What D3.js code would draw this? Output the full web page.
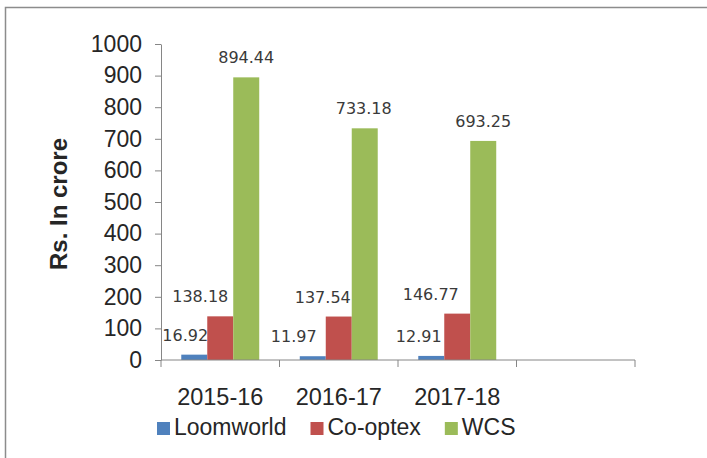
<!DOCTYPE html>
<html>
<head>
<meta charset="utf-8">
<script src="https://cdn.jsdelivr.net/npm/d3@7"></script>
<style>
  html, body { margin: 0; padding: 0; background: #fff; }
  svg { display: block; }
</style>
</head>
<body>
<div id="chart"></div>
<script>
// chart data
const years = ["2015-16", "2016-17", "2017-18", ""];
const seriesNames = ["Loomworld", "Co-optex", "WCS"];
const loomworld = [16.92, 11.97, 12.91];
const coOptex = [138.18, 137.54, 146.77];
const wcs = [894.44, 733.18, 693.25];
const yTicks = [0, 100, 200, 300, 400, 500, 600, 700, 800, 900, 1000];

const seriesValues = [loomworld, coOptex, wcs];
const colors = ["#4F81BD", "#C0504D", "#9BBB59"];
// small manual nudges of the value labels, as placed in the source chart
const labelNudge = [[-9, -19, -12.5], [-20, -16, -26.5], [0, -1, 0]];

const width = 707, height = 458;
const margin = { left: 161, right: 72, top: 44, bottom: 98 };

const svg = d3.select("#chart").append("svg")
    .attr("width", width)
    .attr("height", height);

// outer frame
svg.append("rect")
    .attr("x", 5.5).attr("y", 7.5)
    .attr("width", width + 10).attr("height", height + 10)
    .attr("fill", "none")
    .attr("stroke", "#8c8c8c")
    .attr("stroke-width", 1.5);

const x0 = d3.scaleBand()
    .domain(years)
    .range([margin.left, width - margin.right])
    .paddingInner(0).paddingOuter(0);

const x1 = d3.scaleBand()
    .domain(seriesNames)
    .range([0, x0.bandwidth()])
    .paddingInner(0)
    .paddingOuter(0.78);

const y = d3.scaleLinear()
    .domain([0, 1000])
    .range([height - margin.bottom, margin.top]);

const axisColor = "#868686";
const textColor = "#262626";

// y axis
const yAxis = svg.append("g")
    .attr("transform", `translate(${margin.left},0)`)
    .call(d3.axisLeft(y).tickValues(yTicks).tickFormat(d3.format("d"))
        .tickSize(6).tickPadding(13).tickSizeOuter(0));
yAxis.select(".domain").attr("stroke", axisColor);
yAxis.selectAll(".tick line").attr("stroke", axisColor);
yAxis.selectAll(".tick text")
    .attr("fill", textColor)
    .style("font-family", "'Liberation Sans', Arial, sans-serif")
    .style("font-size", "23px");

// bars
const groups = svg.append("g").selectAll("g")
    .data(years.slice(0, 3))
    .join("g")
    .attr("transform", d => `translate(${x0(d)},0)`);

groups.selectAll("rect")
    .data((d, i) => seriesNames.map((s, k) => ({ s, k, i, v: seriesValues[k][i] })))
    .join("rect")
    .attr("x", d => x1(d.s))
    .attr("y", d => y(d.v))
    .attr("width", x1.bandwidth())
    .attr("height", d => y(0) - y(d.v))
    .attr("fill", d => colors[d.k]);

groups.selectAll("text")
    .data((d, i) => seriesNames.map((s, k) => ({ s, k, i, v: seriesValues[k][i] })))
    .join("text")
    .attr("x", d => x1(d.s) + x1.bandwidth() / 2 + labelNudge[d.k][d.i])
    .attr("y", d => y(d.v) - 14)
    .attr("text-anchor", "middle")
    .attr("fill", "#3a3a3a")
    .style("font-family", "'DejaVu Sans', Verdana, sans-serif")
    .style("font-size", "16px")
    .text(d => d.v.toFixed(2));

// x axis (ticks at category boundaries)
const xAxis = svg.append("g").attr("transform", `translate(0,${y(0)})`);
xAxis.append("line")
    .attr("x1", margin.left).attr("x2", width - margin.right)
    .attr("stroke", axisColor);
const bounds = years.map(d => x0(d)).concat([x0.range()[1]]);
xAxis.selectAll(".xt")
    .data(bounds)
    .join("line")
    .attr("class", "xt")
    .attr("x1", d => d).attr("x2", d => d)
    .attr("y1", 0).attr("y2", 7)
    .attr("stroke", axisColor);
xAxis.selectAll(".xl")
    .data(years)
    .join("text")
    .attr("class", "xl")
    .attr("x", d => x0(d) + x0.bandwidth() / 2)
    .attr("y", 45)
    .attr("text-anchor", "middle")
    .attr("fill", textColor)
    .style("font-family", "'Liberation Sans', Arial, sans-serif")
    .style("font-size", "23.5px")
    .text(d => d);

// y axis title
svg.append("text")
    .attr("transform", `translate(67,${(y(0) + y(1000)) / 2 + 2}) rotate(-90)`)
    .attr("text-anchor", "middle")
    .attr("fill", textColor)
    .style("font-family", "'Liberation Sans', Arial, sans-serif")
    .style("font-size", "24px")
    .style("font-weight", "bold")
    .text("Rs. In crore");

// legend
const legend = svg.append("g").attr("transform", "translate(157,435)");
let lx = 0;
seriesNames.forEach((name, k) => {
    const item = legend.append("g").attr("transform", `translate(${lx},0)`);
    item.append("rect")
        .attr("x", 0).attr("y", -13)
        .attr("width", 13).attr("height", 13)
        .attr("fill", colors[k]);
    const t = item.append("text")
        .attr("x", 17)
        .attr("y", 0)
        .attr("fill", textColor)
        .style("font-family", "'Liberation Sans', Arial, sans-serif")
        .style("font-size", "23px")
        .text(name);
    lx += 17 + t.node().getComputedTextLength() + 24;
});
</script>
</body>
</html>
